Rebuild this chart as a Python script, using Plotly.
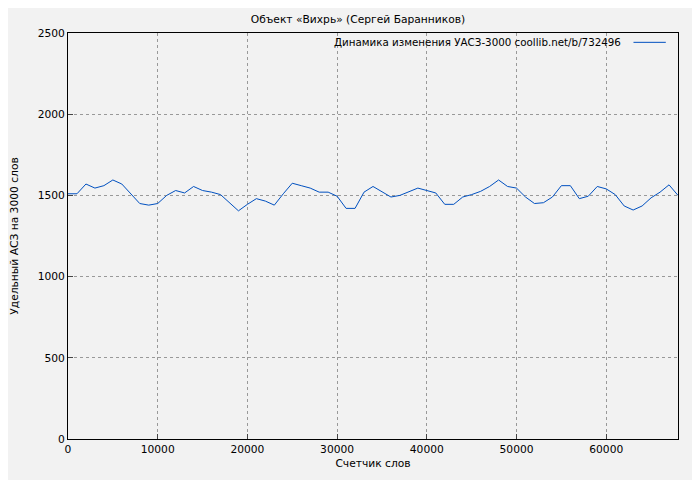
import plotly.graph_objects as go

x_words = list(range(0, 69000, 1000))
uas = [1510,1510,1570,1545,1560,1595,1570,1510,1450,1440,1450,1500,1530,1515,1555,1530,1520,1505,1455,1405,
       1445,1480,1465,1440,1510,1575,1560,1545,1520,1520,1495,1420,1420,1520,1555,1525,1490,1500,1525,1545,
       1530,1515,1445,1445,1490,1505,1525,1555,1595,1555,1545,1490,1450,1455,1490,1560,1560,1480,1495,1555,
       1540,1505,1435,1410,1435,1485,1520,1565,1500]
series_name = "Динамика изменения УАСЗ-3000 coollib.net/b/732496"
line_color = "#0050c0"

fig = go.Figure(go.Scatter(x=x_words, y=uas, mode="lines", line=dict(color=line_color, width=1),
                           name=series_name, showlegend=False))
ax = dict(showline=True, linecolor="black", mirror=True, ticks="inside", ticklen=5,
          showgrid=True, gridcolor="#999999", griddash="dot", zeroline=False, automargin=False,
          tickfont=dict(size=10.7, color="black"))
fig.update_layout(
    width=700, height=480, paper_bgcolor="#f2f2f2", plot_bgcolor="#f2f2f2",
    margin=dict(l=60, r=30, t=25, b=49, autoexpand=False),
    font=dict(family="DejaVu Sans", size=10.7, color="black"),
    title=dict(text="Объект «Вихрь» (Сергей Баранников)", x=0.5, y=0.985, xanchor="center", font=dict(size=10.7)),
    xaxis=dict(ax, range=[0, 68000], tickvals=list(range(0, 70000, 10000)), tickformat="d",
               title=dict(text="Счетчик слов", standoff=4, font=dict(size=10.7))),
    yaxis=dict(ax, range=[0, 2500], tickvals=list(range(0, 2501, 500)),
               title=dict(text="Удельный АСЗ на 3000 слов", standoff=24, font=dict(size=10.7))),
)
fig.add_annotation(xref="paper", yref="paper", x=0.91, y=0.977, xanchor="right", yanchor="middle",
                   text=series_name, showarrow=False, font=dict(size=10.3))
fig.add_shape(type="line", xref="paper", yref="paper", x0=0.927, x1=0.98, y0=0.977, y1=0.977,
              line=dict(color=line_color, width=1))
fig.write_html("out.html")
